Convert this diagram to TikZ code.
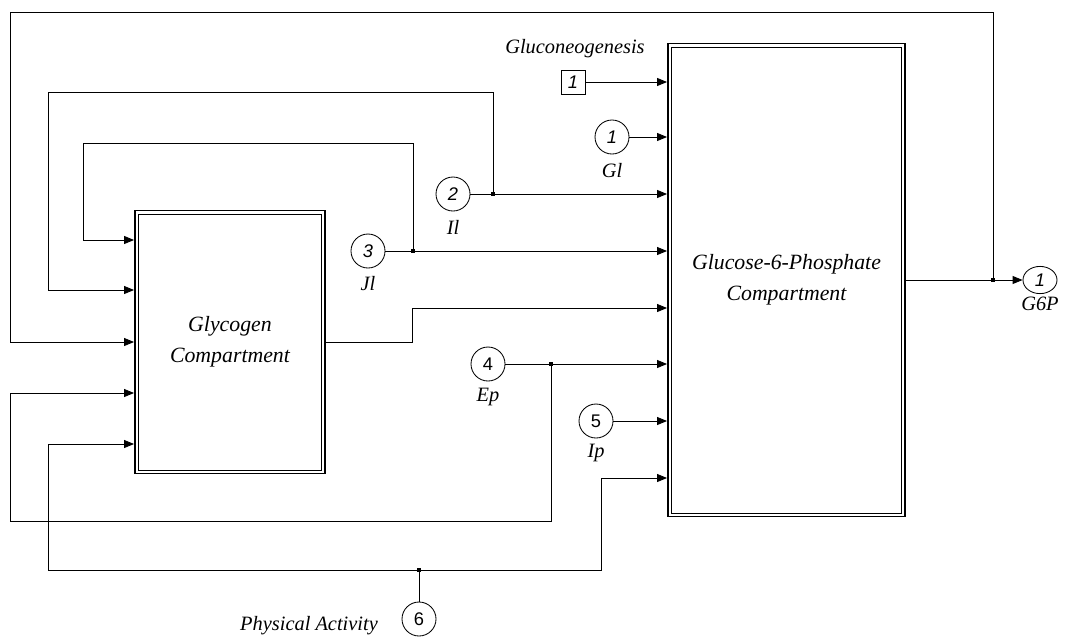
\documentclass[tikz,border=0pt]{standalone}
\usepackage{fontspec}
\setmainfont{Liberation Serif}
\newfontfamily\portfont{Liberation Sans}
\usetikzlibrary{arrows.meta, positioning, calc, shapes.geometric}
\tikzset{
  every picture/.style={line width=0.6pt},
  block/.style={draw, line width=1.3pt, align=center, inner sep=0pt, font=\fontsize{15.5}{22}\selectfont\itshape},
  port/.style={circle, draw, line width=0.6pt, minimum size=0.85cm, inner sep=0pt, font=\portfont\itshape\fontsize{13}{13}\selectfont},
  constblk/.style={draw, line width=0.6pt, minimum size=0.6cm, inner sep=0pt, font=\portfont\itshape\fontsize{13}{13}\selectfont},
  lab/.style={font=\fontsize{14.5}{16}\selectfont\itshape, inner sep=1pt},
  arr/.style={-{Triangle[length=0.25cm, width=0.2cm]}},
}
\newcommand{\junc}[1]{\fill (#1) ++(-1.6,-1.6) rectangle ++(3.2,3.2);}
\newcommand{\innerframe}[1]{\draw[line width=0.5pt] ($(#1.north west)+(4.5,4.5)$) rectangle ($(#1.south east)+(-4.5,-4.5)$);}

\begin{document}
\begin{tikzpicture}[x=0.025cm, y=-0.025cm]
  \useasboundingbox (0,0) rectangle (1066,639);
  % ---- blocks
  \node[block, minimum width=4.75cm, minimum height=6.575cm] (gly) at (230,342) {Glycogen\\Compartment};
  \innerframe{gly}
  \node[block, minimum width=5.925cm, minimum height=11.825cm] (g6p) at (786.5,280) {Glucose-6-Phosphate\\Compartment};
  \innerframe{g6p}
  % ---- sources
  \node[constblk] (gng) at (573,82) {1};
  \node[lab] at (575,49) {Gluconeogenesis};
  \node[port] (gl) at (612,137) {1};
  \node[lab] at (612,171) {Gl};
  \node[port] (il) at (453,194) {2};
  \node[lab] at (453,227) {Il};
  \node[port] (jl) at (368,251) {3};
  \node[lab] at (368,284) {Jl};
  \node[port, font=\portfont\fontsize{13}{13}\selectfont] (ep) at (488,364) {4};
  \node[lab] at (488,397) {Ep};
  \node[port, font=\portfont\fontsize{13}{13}\selectfont] (ip) at (596,421) {5};
  \node[lab] at (596,453) {Ip};
  \node[port, font=\portfont\fontsize{13}{13}\selectfont] (pa) at (419,619) {6};
  \node[lab] at (309,626) {Physical Activity};
  % ---- sink
  \node[port, ellipse, minimum width=0.85cm, minimum height=0.68cm] (out) at (1040,280) {1};
  \node[lab] at (1040,304) {G6P};
  % ---- junctions
  \coordinate (jil) at (493,194);
  \coordinate (jjl) at (413,251);
  \coordinate (jep) at (551,364);
  \coordinate (jpa) at (419,570);
  \coordinate (jout) at (993,280);
  % ---- inputs of the glucose-6-phosphate block
  \draw[arr] (gng) -- (gng -| g6p.west);
  \draw[arr] (gl) -- (gl -| g6p.west);
  \draw[arr] (il) -- (il -| g6p.west);
  \draw[arr] (jl) -- (jl -| g6p.west);
  \draw[arr] (gly.east) -- (412,342) |- (g6p.west |- 0,308);
  \draw[arr] (ep) -- (ep -| g6p.west);
  \draw[arr] (ip) -- (ip -| g6p.west);
  \draw[arr] (pa) -- (jpa) -| (601,478) -- (g6p.west |- 0,478);
  % ---- feedback into the glycogen block
  \draw[arr] (g6p.east) -- (out);
  \draw[arr] (jout) |- (10,12) |- (gly.west);
  \draw[arr] (jil) |- (48,92) |- (gly.west |- 0,290);
  \draw[arr] (jjl) |- (83,143) |- (gly.west |- 0,240);
  \draw[arr] (jep) |- (10,521) |- (gly.west |- 0,393);
  \draw[arr] (jpa) -| (48,570) |- (gly.west |- 0,444);
  \foreach \j in {jil, jjl, jep, jpa, jout} {\junc{\j}}
\end{tikzpicture}
\end{document}
